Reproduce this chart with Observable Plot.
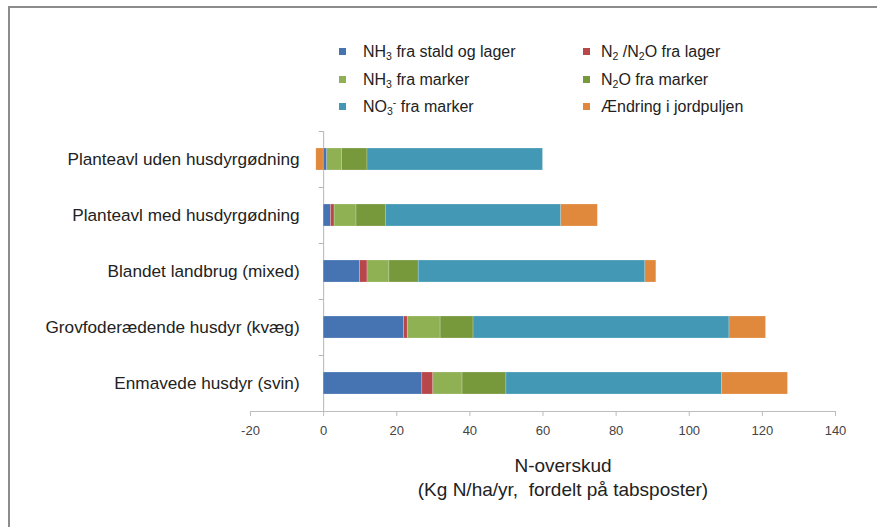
<!DOCTYPE html>
<html>
<head>
<meta charset="utf-8">
<script src="https://cdn.jsdelivr.net/npm/d3@7"></script>
<script src="https://cdn.jsdelivr.net/npm/@observablehq/plot@0.6"></script>
<style>
  html, body { margin: 0; padding: 0; background: #fff; }
  #wrap { position: relative; width: 877px; height: 527px; overflow: hidden; font-family: "Liberation Sans", Arial, sans-serif; }
  .bt { position: absolute; left: 8px; top: 6px; width: 869px; height: 2px; background: #8c8c8c; }
  .bl { position: absolute; left: 8px; top: 6px; width: 2px; height: 521px; background: #8c8c8c; }
  .leg { position: absolute; font-size: 16px; color: #222; white-space: nowrap; line-height: 1; }
  .sw { position: absolute; width: 7px; height: 7px; }
  .leg sub { font-size: 10.5px; vertical-align: -3px; line-height: 0; }
  .leg sup { font-size: 10.5px; vertical-align: 6px; line-height: 0; }
  .title { position: absolute; left: 0; width: 1126px; text-align: center; font-size: 19px; color: #222; white-space: pre; }
</style>
</head>
<body>
<div id="wrap">
  <div id="chart"></div>
  <div class="bt"></div>
  <div class="bl"></div>
</div>
<script>
const categories = [
  "Planteavl uden husdyrgødning",
  "Planteavl med husdyrgødning",
  "Blandet landbrug (mixed)",
  "Grovfoderædende husdyr (kvæg)",
  "Enmavede husdyr (svin)"
];
const seriesKeys = ["NH3 stald/lager", "N2/N2O lager", "NH3 marker", "N2O marker", "NO3 marker", "Ændring jordpulje"];
const seriesLabels = [
  "NH<sub>3</sub> fra stald og lager",
  "N<sub>2</sub> /N<sub>2</sub>O fra lager",
  "NH<sub>3</sub> fra marker",
  "N<sub>2</sub>O fra marker",
  "NO<sub>3</sub><sup>-</sup> fra marker",
  "Ændring i jordpuljen"
];
const colors = ["#4673b1", "#b8474a", "#8fb154", "#77983b", "#4399b5", "#e0893c"];

const nh3Stald  = [1, 2, 10, 22, 27];
const n2Lager   = [0, 1, 2, 1, 3];
const nh3Marker = [4, 6, 6, 9, 8];
const n2oMarker = [7, 8, 8, 9, 12];
const no3Marker = [48, 48, 62, 70, 59];
const jordpulje = [-2, 10, 3, 10, 18];
const xTicks = [-20, 0, 20, 40, 60, 80, 100, 120, 140];
const xTitle = ["N-overskud", "(Kg N/ha/yr,  fordelt på tabsposter)"];

const seriesValues = [nh3Stald, n2Lager, nh3Marker, n2oMarker, no3Marker, jordpulje];
const rows = [];
seriesKeys.forEach((s, si) => {
  categories.forEach((c, ci) => {
    rows.push({cat: c, series: s, value: seriesValues[si][ci]});
  });
});

const font = '"Liberation Sans", Arial, sans-serif';
const chart = Plot.plot({
  width: 877,
  height: 527,
  marginLeft: 250,
  marginRight: 42,
  marginTop: 131,
  marginBottom: 116,
  style: {fontFamily: font, fontSize: "13px", color: "#444", background: "transparent"},
  x: {domain: [-20, 140]},
  y: {domain: categories, paddingInner: 0.6, paddingOuter: 0.3, axis: null},
  color: {domain: seriesKeys, range: colors},
  marks: [
    Plot.frame({anchor: "bottom", stroke: "#bdbdbd"}),
    Plot.axisX({ticks: xTicks, tickFormat: d => String(d), tickSize: 5, tickPadding: 9, label: null, stroke: "#bdbdbd", fill: "#444", fontSize: 13}),
    Plot.ruleX([0], {stroke: "#b5b5b5"}),
    Plot.ruleY(categories, {y: d => d, x1: -1.2, x2: 0, dy: -28, stroke: "#b5b5b5"}),
    Plot.barX(rows, Plot.stackX({y: "cat", x: "value", fill: "series", stroke: "#ffffff", strokeOpacity: 0.35, strokeWidth: 0.6})),
    Plot.text(categories, {y: d => d, x: 0, dx: -24, textAnchor: "end", fontSize: 17.2, fill: "#222"})
  ]
});
document.getElementById("chart").appendChild(chart);

// legend
const wrap = document.getElementById("wrap");
const legPos = [
  {sx: 339, tx: 363, y: 48}, {sx: 583, tx: 601, y: 48},
  {sx: 339, tx: 363, y: 76}, {sx: 583, tx: 601, y: 76},
  {sx: 339, tx: 363, y: 103}, {sx: 583, tx: 601, y: 103}
];
seriesLabels.forEach((lab, si) => {
  const p = legPos[si];
  const sw = document.createElement("div");
  sw.className = "sw";
  sw.style.left = p.sx + "px";
  sw.style.top = p.y + "px";
  sw.style.background = colors[si];
  wrap.appendChild(sw);
  const t = document.createElement("div");
  t.className = "leg";
  t.style.left = p.tx + "px";
  t.style.top = (p.y - 4) + "px";
  t.innerHTML = lab;
  wrap.appendChild(t);
});

xTitle.forEach((s, i) => {
  const t = document.createElement("div");
  t.className = "title";
  t.style.top = (455 + i * 24) + "px";
  t.textContent = s;
  wrap.appendChild(t);
});
</script>
</body>
</html>
